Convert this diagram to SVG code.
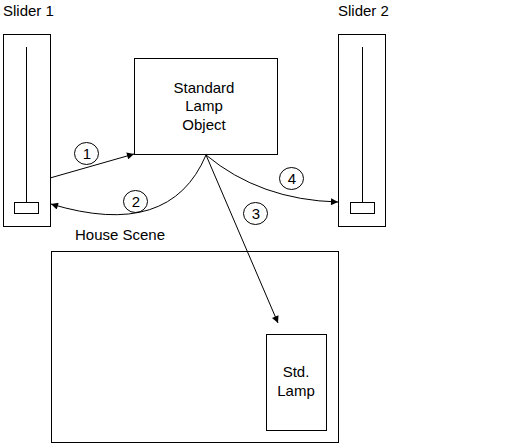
<svg xmlns="http://www.w3.org/2000/svg" width="532" height="444" viewBox="0 0 532 444">
<style>
.b{fill:none;stroke:#000;stroke-width:1}
.t{font-family:"Liberation Sans",Arial,sans-serif;font-size:15px;fill:#000}
.c{font-family:"Liberation Sans",Arial,sans-serif;font-size:15px;fill:#000;text-anchor:middle}
.w{fill:#fff;stroke:#000;stroke-width:1}
</style>
<defs>
<marker id="ah" viewBox="0 0 10 10" refX="10" refY="5" markerWidth="9" markerHeight="7" markerUnits="userSpaceOnUse" orient="auto">
<path d="M0,0 L10,5 L0,10 z" fill="#000"/>
</marker>
</defs>
<rect width="532" height="444" fill="#fff"/>
<g id="slider1">
<text class="t" x="3" y="16">Slider 1</text>
<rect class="b" x="3.5" y="34.5" width="47" height="192"/>
<line class="b" x1="26.5" y1="47" x2="26.5" y2="202"/>
<rect class="b" x="14.5" y="202.5" width="24" height="11"/>
</g>
<g id="slider2">
<text class="t" x="338" y="16">Slider 2</text>
<rect class="b" x="338.5" y="34.5" width="47" height="192"/>
<line class="b" x1="362.5" y1="47" x2="362.5" y2="202"/>
<rect class="b" x="350.5" y="202.5" width="24" height="11"/>
</g>
<g id="lampObject">
<rect class="b" x="134.5" y="58.5" width="143" height="96"/>
<text class="c" x="204" y="93">Standard</text>
<text class="c" x="204" y="111">Lamp</text>
<text class="c" x="204" y="130">Object</text>
</g>
<g id="houseScene">
<text class="t" x="75" y="240">House Scene</text>
<rect class="b" x="51.5" y="251.5" width="287" height="191"/>
</g>
<g id="stdLamp">
<rect class="b" x="266.5" y="334.5" width="60" height="96"/>
<text class="c" x="296" y="377">Std.</text>
<text class="c" x="296" y="396">Lamp</text>
</g>
<g id="connectors">
<path class="b" d="M50,178 L134,154" marker-end="url(#ah)"/>
<path class="b" d="M206,155 Q170,240 51,204" marker-end="url(#ah)"/>
<path class="b" d="M206,155 L278,323" marker-end="url(#ah)"/>
<path class="b" d="M206,155 Q260,200 338,202" marker-end="url(#ah)"/>
</g>
<g id="labels">
<ellipse class="b" cx="86.5" cy="153.5" rx="12" ry="11"/>
<text class="c" x="87" y="159">1</text>
<ellipse class="b" cx="135.5" cy="201.5" rx="12" ry="11"/>
<text class="c" x="136" y="207">2</text>
<ellipse class="b" cx="255.5" cy="213.5" rx="12" ry="11"/>
<text class="c" x="256" y="219">3</text>
<ellipse class="b" cx="291.5" cy="178.5" rx="12" ry="11"/>
<text class="c" x="292" y="184">4</text>
</g>
</svg>
